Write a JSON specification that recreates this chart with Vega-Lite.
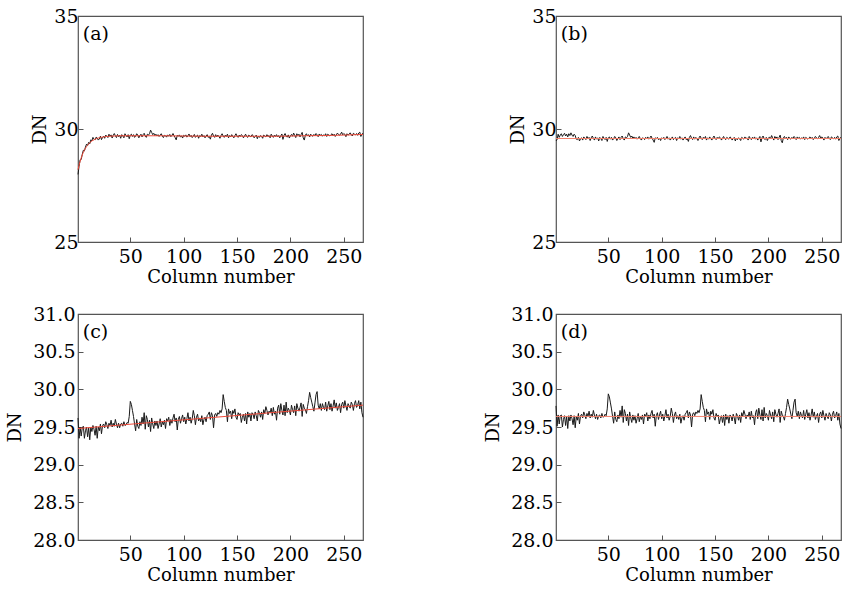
{
  "$schema": "https://vega.github.io/schema/vega-lite/v6.json",
  "background": "white",
  "padding": {"left": 6, "top": 6, "right": 0, "bottom": 0},
  "config": {
    "font": "DejaVu Serif",
    "view": {"stroke": "#555555", "strokeWidth": 1.2},
    "axis": {
      "domain": false,
      "grid": false,
      "tickSize": -5,
      "tickColor": "#555555",
      "labelFont": "DejaVu Serif",
      "labelFontSize": 19,
      "labelColor": "#000000",
      "labelFlush": false,
      "labelOverlap": false,
      "titleFont": "DejaVu Serif",
      "titleFontSize": 18,
      "titleFontWeight": "normal",
      "titleColor": "#000000"
    },
    "axisX": {"labelPadding": 10, "titlePadding": 2},
    "axisY": {"labelPadding": 5, "titlePadding": 4}
  },
  "datasets": {
    "a": [
      {"x":1,"y":27.99},{"x":2,"y":28.35},{"x":3,"y":28.64},{"x":4,"y":28.65},{"x":5,"y":28.88},{"x":6,"y":29.06},{"x":7,"y":29.03},{"x":8,"y":29.20},{"x":9,"y":29.33},{"x":10,"y":29.27},
      {"x":11,"y":29.41},{"x":12,"y":29.34},{"x":13,"y":29.52},{"x":14,"y":29.48},{"x":15,"y":29.63},{"x":16,"y":29.55},{"x":17,"y":29.52},{"x":18,"y":29.64},{"x":19,"y":29.60},{"x":20,"y":29.51},
      {"x":21,"y":29.56},{"x":22,"y":29.68},{"x":23,"y":29.53},{"x":24,"y":29.63},{"x":25,"y":29.68},{"x":26,"y":29.59},{"x":27,"y":29.73},{"x":28,"y":29.68},{"x":29,"y":29.62},{"x":30,"y":29.77},
      {"x":31,"y":29.68},{"x":32,"y":29.74},{"x":33,"y":29.60},{"x":34,"y":29.72},{"x":35,"y":29.80},{"x":36,"y":29.70},{"x":37,"y":29.62},{"x":38,"y":29.76},{"x":39,"y":29.66},{"x":40,"y":29.72},
      {"x":41,"y":29.59},{"x":42,"y":29.75},{"x":43,"y":29.69},{"x":44,"y":29.61},{"x":45,"y":29.79},{"x":46,"y":29.71},{"x":47,"y":29.65},{"x":48,"y":29.75},{"x":49,"y":29.57},{"x":50,"y":29.73},
      {"x":51,"y":29.77},{"x":52,"y":29.67},{"x":53,"y":29.75},{"x":54,"y":29.63},{"x":55,"y":29.69},{"x":56,"y":29.79},{"x":57,"y":29.73},{"x":58,"y":29.61},{"x":59,"y":29.71},{"x":60,"y":29.77},
      {"x":61,"y":29.65},{"x":62,"y":29.75},{"x":63,"y":29.81},{"x":64,"y":29.69},{"x":65,"y":29.63},{"x":66,"y":29.77},{"x":67,"y":29.73},{"x":68,"y":29.79},{"x":69,"y":29.95},{"x":70,"y":29.85},
      {"x":71,"y":29.75},{"x":72,"y":29.81},{"x":73,"y":29.71},{"x":74,"y":29.77},{"x":75,"y":29.69},{"x":76,"y":29.75},{"x":77,"y":29.67},{"x":78,"y":29.73},{"x":79,"y":29.79},{"x":80,"y":29.69},
      {"x":81,"y":29.62},{"x":82,"y":29.72},{"x":83,"y":29.70},{"x":84,"y":29.64},{"x":85,"y":29.74},{"x":86,"y":29.68},{"x":87,"y":29.76},{"x":88,"y":29.66},{"x":89,"y":29.72},{"x":90,"y":29.80},
      {"x":91,"y":29.70},{"x":92,"y":29.62},{"x":93,"y":29.52},{"x":94,"y":29.72},{"x":95,"y":29.68},{"x":96,"y":29.74},{"x":97,"y":29.64},{"x":98,"y":29.70},{"x":99,"y":29.60},{"x":100,"y":29.72},
      {"x":101,"y":29.68},{"x":102,"y":29.74},{"x":103,"y":29.64},{"x":104,"y":29.70},{"x":105,"y":29.78},{"x":106,"y":29.66},{"x":107,"y":29.72},{"x":108,"y":29.62},{"x":109,"y":29.68},{"x":110,"y":29.76},
      {"x":111,"y":29.63},{"x":112,"y":29.69},{"x":113,"y":29.73},{"x":114,"y":29.59},{"x":115,"y":29.71},{"x":116,"y":29.67},{"x":117,"y":29.77},{"x":118,"y":29.65},{"x":119,"y":29.71},{"x":120,"y":29.61},
      {"x":121,"y":29.69},{"x":122,"y":29.75},{"x":123,"y":29.63},{"x":124,"y":29.67},{"x":125,"y":29.55},{"x":126,"y":29.73},{"x":127,"y":29.81},{"x":128,"y":29.69},{"x":129,"y":29.63},{"x":130,"y":29.75},
      {"x":131,"y":29.65},{"x":132,"y":29.73},{"x":133,"y":29.67},{"x":134,"y":29.59},{"x":135,"y":29.71},{"x":136,"y":29.79},{"x":137,"y":29.69},{"x":138,"y":29.63},{"x":139,"y":29.73},{"x":140,"y":29.67},
      {"x":141,"y":29.77},{"x":142,"y":29.61},{"x":143,"y":29.71},{"x":144,"y":29.65},{"x":145,"y":29.75},{"x":146,"y":29.67},{"x":147,"y":29.61},{"x":148,"y":29.71},{"x":149,"y":29.79},{"x":150,"y":29.69},
      {"x":151,"y":29.63},{"x":152,"y":29.73},{"x":153,"y":29.67},{"x":154,"y":29.75},{"x":155,"y":29.71},{"x":156,"y":29.61},{"x":157,"y":29.69},{"x":158,"y":29.77},{"x":159,"y":29.67},{"x":160,"y":29.63},
      {"x":161,"y":29.73},{"x":162,"y":29.69},{"x":163,"y":29.65},{"x":164,"y":29.75},{"x":165,"y":29.71},{"x":166,"y":29.61},{"x":167,"y":29.67},{"x":168,"y":29.73},{"x":169,"y":29.57},{"x":170,"y":29.69},
      {"x":171,"y":29.63},{"x":172,"y":29.71},{"x":173,"y":29.67},{"x":174,"y":29.59},{"x":175,"y":29.73},{"x":176,"y":29.69},{"x":177,"y":29.65},{"x":178,"y":29.75},{"x":179,"y":29.67},{"x":180,"y":29.71},
      {"x":181,"y":29.61},{"x":182,"y":29.77},{"x":183,"y":29.69},{"x":184,"y":29.63},{"x":185,"y":29.73},{"x":186,"y":29.67},{"x":187,"y":29.75},{"x":188,"y":29.65},{"x":189,"y":29.71},{"x":190,"y":29.61},
      {"x":191,"y":29.70},{"x":192,"y":29.78},{"x":193,"y":29.54},{"x":194,"y":29.72},{"x":195,"y":29.80},{"x":196,"y":29.68},{"x":197,"y":29.64},{"x":198,"y":29.74},{"x":199,"y":29.60},{"x":200,"y":29.70},
      {"x":201,"y":29.76},{"x":202,"y":29.68},{"x":203,"y":29.82},{"x":204,"y":29.72},{"x":205,"y":29.62},{"x":206,"y":29.79},{"x":207,"y":29.71},{"x":208,"y":29.77},{"x":209,"y":29.65},{"x":210,"y":29.75},
      {"x":211,"y":29.85},{"x":212,"y":29.61},{"x":213,"y":29.51},{"x":214,"y":29.73},{"x":215,"y":29.79},{"x":216,"y":29.69},{"x":217,"y":29.75},{"x":218,"y":29.65},{"x":219,"y":29.77},{"x":220,"y":29.71},
      {"x":221,"y":29.68},{"x":222,"y":29.76},{"x":223,"y":29.70},{"x":224,"y":29.80},{"x":225,"y":29.74},{"x":226,"y":29.66},{"x":227,"y":29.78},{"x":228,"y":29.72},{"x":229,"y":29.76},{"x":230,"y":29.68},
      {"x":231,"y":29.74},{"x":232,"y":29.70},{"x":233,"y":29.79},{"x":234,"y":29.67},{"x":235,"y":29.77},{"x":236,"y":29.73},{"x":237,"y":29.69},{"x":238,"y":29.75},{"x":239,"y":29.79},{"x":240,"y":29.71},
      {"x":241,"y":29.77},{"x":242,"y":29.67},{"x":243,"y":29.74},{"x":244,"y":29.82},{"x":245,"y":29.76},{"x":246,"y":29.72},{"x":247,"y":29.78},{"x":248,"y":29.86},{"x":249,"y":29.74},{"x":250,"y":29.80},
      {"x":251,"y":29.76},{"x":252,"y":29.66},{"x":253,"y":29.79},{"x":254,"y":29.73},{"x":255,"y":29.77},{"x":256,"y":29.83},{"x":257,"y":29.75},{"x":258,"y":29.69},{"x":259,"y":29.81},{"x":260,"y":29.77},
      {"x":261,"y":29.74},{"x":262,"y":29.80},{"x":263,"y":29.72},{"x":264,"y":29.82},{"x":265,"y":29.86},{"x":266,"y":29.67},{"x":267,"y":29.77},{"x":268,"y":29.81}
    ],
    "fa": [
      {"x":1,"y":28.20},{"x":2,"y":28.40},{"x":3,"y":28.57},{"x":4,"y":28.72},{"x":5,"y":28.85},{"x":6,"y":28.97},{"x":7,"y":29.06},{"x":8,"y":29.15},{"x":9,"y":29.22},{"x":10,"y":29.28},
      {"x":11,"y":29.34},{"x":12,"y":29.39},{"x":13,"y":29.43},{"x":14,"y":29.47},{"x":15,"y":29.50},{"x":16,"y":29.52},{"x":17,"y":29.55},{"x":18,"y":29.57},{"x":19,"y":29.59},{"x":20,"y":29.60},
      {"x":22,"y":29.63},{"x":24,"y":29.64},{"x":26,"y":29.66},{"x":28,"y":29.67},{"x":30,"y":29.68},{"x":35,"y":29.69},{"x":40,"y":29.70},{"x":60,"y":29.70},{"x":80,"y":29.70},{"x":100,"y":29.69},
      {"x":120,"y":29.68},{"x":150,"y":29.68},{"x":190,"y":29.68},{"x":210,"y":29.70},{"x":230,"y":29.71},{"x":250,"y":29.73},{"x":268,"y":29.76}
    ],
    "b": [
      {"x":1,"y":29.47},{"x":2,"y":29.53},{"x":3,"y":29.77},{"x":4,"y":29.63},{"x":5,"y":29.73},{"x":6,"y":29.79},{"x":7,"y":29.67},{"x":8,"y":29.75},{"x":9,"y":29.81},{"x":10,"y":29.69},
      {"x":11,"y":29.77},{"x":12,"y":29.65},{"x":13,"y":29.79},{"x":14,"y":29.71},{"x":15,"y":29.83},{"x":16,"y":29.73},{"x":17,"y":29.67},{"x":18,"y":29.77},{"x":19,"y":29.71},{"x":20,"y":29.55},
      {"x":21,"y":29.53},{"x":22,"y":29.63},{"x":23,"y":29.47},{"x":24,"y":29.57},{"x":25,"y":29.61},{"x":26,"y":29.51},{"x":27,"y":29.65},{"x":28,"y":29.59},{"x":29,"y":29.53},{"x":30,"y":29.67},
      {"x":31,"y":29.57},{"x":32,"y":29.63},{"x":33,"y":29.49},{"x":34,"y":29.61},{"x":35,"y":29.69},{"x":36,"y":29.59},{"x":37,"y":29.51},{"x":38,"y":29.65},{"x":39,"y":29.55},{"x":40,"y":29.61},
      {"x":41,"y":29.47},{"x":42,"y":29.63},{"x":43,"y":29.57},{"x":44,"y":29.49},{"x":45,"y":29.67},{"x":46,"y":29.59},{"x":47,"y":29.53},{"x":48,"y":29.63},{"x":49,"y":29.45},{"x":50,"y":29.61},
      {"x":51,"y":29.65},{"x":52,"y":29.55},{"x":53,"y":29.63},{"x":54,"y":29.51},{"x":55,"y":29.57},{"x":56,"y":29.67},{"x":57,"y":29.61},{"x":58,"y":29.49},{"x":59,"y":29.59},{"x":60,"y":29.65},
      {"x":61,"y":29.53},{"x":62,"y":29.63},{"x":63,"y":29.69},{"x":64,"y":29.57},{"x":65,"y":29.51},{"x":66,"y":29.65},{"x":67,"y":29.61},{"x":68,"y":29.67},{"x":69,"y":29.83},{"x":70,"y":29.73},
      {"x":71,"y":29.63},{"x":72,"y":29.69},{"x":73,"y":29.59},{"x":74,"y":29.65},{"x":75,"y":29.57},{"x":76,"y":29.63},{"x":77,"y":29.55},{"x":78,"y":29.61},{"x":79,"y":29.67},{"x":80,"y":29.57},
      {"x":81,"y":29.51},{"x":82,"y":29.61},{"x":83,"y":29.59},{"x":84,"y":29.53},{"x":85,"y":29.63},{"x":86,"y":29.57},{"x":87,"y":29.65},{"x":88,"y":29.55},{"x":89,"y":29.61},{"x":90,"y":29.69},
      {"x":91,"y":29.59},{"x":92,"y":29.51},{"x":93,"y":29.41},{"x":94,"y":29.61},{"x":95,"y":29.57},{"x":96,"y":29.63},{"x":97,"y":29.53},{"x":98,"y":29.59},{"x":99,"y":29.49},{"x":100,"y":29.61},
      {"x":101,"y":29.57},{"x":102,"y":29.63},{"x":103,"y":29.53},{"x":104,"y":29.59},{"x":105,"y":29.67},{"x":106,"y":29.55},{"x":107,"y":29.61},{"x":108,"y":29.51},{"x":109,"y":29.57},{"x":110,"y":29.65},
      {"x":111,"y":29.53},{"x":112,"y":29.59},{"x":113,"y":29.63},{"x":114,"y":29.49},{"x":115,"y":29.61},{"x":116,"y":29.57},{"x":117,"y":29.67},{"x":118,"y":29.55},{"x":119,"y":29.61},{"x":120,"y":29.51},
      {"x":121,"y":29.59},{"x":122,"y":29.65},{"x":123,"y":29.53},{"x":124,"y":29.57},{"x":125,"y":29.45},{"x":126,"y":29.63},{"x":127,"y":29.71},{"x":128,"y":29.59},{"x":129,"y":29.53},{"x":130,"y":29.65},
      {"x":131,"y":29.55},{"x":132,"y":29.63},{"x":133,"y":29.57},{"x":134,"y":29.49},{"x":135,"y":29.61},{"x":136,"y":29.69},{"x":137,"y":29.59},{"x":138,"y":29.53},{"x":139,"y":29.63},{"x":140,"y":29.57},
      {"x":141,"y":29.67},{"x":142,"y":29.51},{"x":143,"y":29.61},{"x":144,"y":29.55},{"x":145,"y":29.65},{"x":146,"y":29.57},{"x":147,"y":29.51},{"x":148,"y":29.61},{"x":149,"y":29.69},{"x":150,"y":29.59},
      {"x":151,"y":29.53},{"x":152,"y":29.63},{"x":153,"y":29.57},{"x":154,"y":29.65},{"x":155,"y":29.61},{"x":156,"y":29.51},{"x":157,"y":29.59},{"x":158,"y":29.67},{"x":159,"y":29.57},{"x":160,"y":29.53},
      {"x":161,"y":29.63},{"x":162,"y":29.59},{"x":163,"y":29.55},{"x":164,"y":29.65},{"x":165,"y":29.61},{"x":166,"y":29.51},{"x":167,"y":29.57},{"x":168,"y":29.63},{"x":169,"y":29.47},{"x":170,"y":29.59},
      {"x":171,"y":29.53},{"x":172,"y":29.61},{"x":173,"y":29.57},{"x":174,"y":29.49},{"x":175,"y":29.63},{"x":176,"y":29.59},{"x":177,"y":29.55},{"x":178,"y":29.65},{"x":179,"y":29.57},{"x":180,"y":29.61},
      {"x":181,"y":29.51},{"x":182,"y":29.67},{"x":183,"y":29.59},{"x":184,"y":29.53},{"x":185,"y":29.63},{"x":186,"y":29.57},{"x":187,"y":29.65},{"x":188,"y":29.55},{"x":189,"y":29.61},{"x":190,"y":29.51},
      {"x":191,"y":29.59},{"x":192,"y":29.67},{"x":193,"y":29.43},{"x":194,"y":29.61},{"x":195,"y":29.69},{"x":196,"y":29.57},{"x":197,"y":29.53},{"x":198,"y":29.63},{"x":199,"y":29.49},{"x":200,"y":29.59},
      {"x":201,"y":29.65},{"x":202,"y":29.57},{"x":203,"y":29.71},{"x":204,"y":29.61},{"x":205,"y":29.51},{"x":206,"y":29.67},{"x":207,"y":29.59},{"x":208,"y":29.65},{"x":209,"y":29.53},{"x":210,"y":29.63},
      {"x":211,"y":29.73},{"x":212,"y":29.49},{"x":213,"y":29.39},{"x":214,"y":29.61},{"x":215,"y":29.67},{"x":216,"y":29.57},{"x":217,"y":29.63},{"x":218,"y":29.53},{"x":219,"y":29.65},{"x":220,"y":29.59},
      {"x":221,"y":29.55},{"x":222,"y":29.63},{"x":223,"y":29.57},{"x":224,"y":29.67},{"x":225,"y":29.61},{"x":226,"y":29.53},{"x":227,"y":29.65},{"x":228,"y":29.59},{"x":229,"y":29.63},{"x":230,"y":29.55},
      {"x":231,"y":29.61},{"x":232,"y":29.57},{"x":233,"y":29.65},{"x":234,"y":29.53},{"x":235,"y":29.63},{"x":236,"y":29.59},{"x":237,"y":29.55},{"x":238,"y":29.61},{"x":239,"y":29.65},{"x":240,"y":29.57},
      {"x":241,"y":29.63},{"x":242,"y":29.53},{"x":243,"y":29.59},{"x":244,"y":29.67},{"x":245,"y":29.61},{"x":246,"y":29.57},{"x":247,"y":29.63},{"x":248,"y":29.71},{"x":249,"y":29.59},{"x":250,"y":29.65},
      {"x":251,"y":29.61},{"x":252,"y":29.51},{"x":253,"y":29.63},{"x":254,"y":29.57},{"x":255,"y":29.61},{"x":256,"y":29.67},{"x":257,"y":29.59},{"x":258,"y":29.53},{"x":259,"y":29.65},{"x":260,"y":29.61},
      {"x":261,"y":29.57},{"x":262,"y":29.63},{"x":263,"y":29.55},{"x":264,"y":29.65},{"x":265,"y":29.69},{"x":266,"y":29.49},{"x":267,"y":29.59},{"x":268,"y":29.63}
    ],
    "fb": [{"x":1,"y":29.58},{"x":268,"y":29.58}],
    "c": [
      {"x":1,"y":29.62},{"x":2,"y":29.35},{"x":3,"y":29.50},{"x":4,"y":29.38},{"x":5,"y":29.49},{"x":6,"y":29.51},{"x":7,"y":29.35},{"x":8,"y":29.45},{"x":9,"y":29.50},{"x":10,"y":29.37},
      {"x":11,"y":29.49},{"x":12,"y":29.33},{"x":13,"y":29.50},{"x":14,"y":29.44},{"x":15,"y":29.52},{"x":16,"y":29.47},{"x":17,"y":29.39},{"x":18,"y":29.51},{"x":19,"y":29.35},{"x":20,"y":29.50},
      {"x":21,"y":29.45},{"x":22,"y":29.54},{"x":23,"y":29.41},{"x":24,"y":29.52},{"x":25,"y":29.54},{"x":26,"y":29.49},{"x":27,"y":29.57},{"x":28,"y":29.53},{"x":29,"y":29.48},{"x":30,"y":29.55},
      {"x":31,"y":29.52},{"x":32,"y":29.59},{"x":33,"y":29.50},{"x":34,"y":29.55},{"x":35,"y":29.51},{"x":36,"y":29.60},{"x":37,"y":29.54},{"x":38,"y":29.49},{"x":39,"y":29.55},{"x":40,"y":29.49},
      {"x":41,"y":29.54},{"x":42,"y":29.55},{"x":43,"y":29.51},{"x":44,"y":29.57},{"x":45,"y":29.52},{"x":46,"y":29.53},{"x":47,"y":29.56},{"x":48,"y":29.55},{"x":49,"y":29.64},{"x":50,"y":29.84},
      {"x":51,"y":29.80},{"x":52,"y":29.72},{"x":53,"y":29.64},{"x":54,"y":29.54},{"x":55,"y":29.45},{"x":56,"y":29.60},{"x":57,"y":29.51},{"x":58,"y":29.48},{"x":59,"y":29.57},{"x":60,"y":29.52},
      {"x":61,"y":29.63},{"x":62,"y":29.54},{"x":63,"y":29.69},{"x":64,"y":29.47},{"x":65,"y":29.65},{"x":66,"y":29.60},{"x":67,"y":29.50},{"x":68,"y":29.59},{"x":69,"y":29.44},{"x":70,"y":29.62},
      {"x":71,"y":29.54},{"x":72,"y":29.48},{"x":73,"y":29.58},{"x":74,"y":29.52},{"x":75,"y":29.58},{"x":76,"y":29.48},{"x":77,"y":29.54},{"x":78,"y":29.61},{"x":79,"y":29.50},{"x":80,"y":29.57},
      {"x":81,"y":29.53},{"x":82,"y":29.59},{"x":83,"y":29.48},{"x":84,"y":29.61},{"x":85,"y":29.58},{"x":86,"y":29.63},{"x":87,"y":29.52},{"x":88,"y":29.60},{"x":89,"y":29.55},{"x":90,"y":29.62},
      {"x":91,"y":29.67},{"x":92,"y":29.57},{"x":93,"y":29.62},{"x":94,"y":29.46},{"x":95,"y":29.60},{"x":96,"y":29.64},{"x":97,"y":29.55},{"x":98,"y":29.61},{"x":99,"y":29.66},{"x":100,"y":29.57},
      {"x":101,"y":29.63},{"x":102,"y":29.54},{"x":103,"y":29.61},{"x":104,"y":29.69},{"x":105,"y":29.58},{"x":106,"y":29.63},{"x":107,"y":29.55},{"x":108,"y":29.61},{"x":109,"y":29.72},{"x":110,"y":29.65},
      {"x":111,"y":29.53},{"x":112,"y":29.63},{"x":113,"y":29.67},{"x":114,"y":29.58},{"x":115,"y":29.62},{"x":116,"y":29.57},{"x":117,"y":29.65},{"x":118,"y":29.53},{"x":119,"y":29.60},{"x":120,"y":29.63},
      {"x":121,"y":29.57},{"x":122,"y":29.65},{"x":123,"y":29.67},{"x":124,"y":29.70},{"x":125,"y":29.60},{"x":126,"y":29.69},{"x":127,"y":29.65},{"x":128,"y":29.49},{"x":129,"y":29.66},{"x":130,"y":29.68},
      {"x":131,"y":29.64},{"x":132,"y":29.69},{"x":133,"y":29.67},{"x":134,"y":29.72},{"x":135,"y":29.69},{"x":136,"y":29.74},{"x":137,"y":29.93},{"x":138,"y":29.84},{"x":139,"y":29.76},{"x":140,"y":29.72},
      {"x":141,"y":29.57},{"x":142,"y":29.74},{"x":143,"y":29.68},{"x":144,"y":29.71},{"x":145,"y":29.61},{"x":146,"y":29.72},{"x":147,"y":29.68},{"x":148,"y":29.74},{"x":149,"y":29.63},{"x":150,"y":29.60},
      {"x":151,"y":29.69},{"x":152,"y":29.66},{"x":153,"y":29.68},{"x":154,"y":29.56},{"x":155,"y":29.63},{"x":156,"y":29.67},{"x":157,"y":29.58},{"x":158,"y":29.68},{"x":159,"y":29.54},{"x":160,"y":29.70},
      {"x":161,"y":29.63},{"x":162,"y":29.68},{"x":163,"y":29.58},{"x":164,"y":29.69},{"x":165,"y":29.67},{"x":166,"y":29.61},{"x":167,"y":29.70},{"x":168,"y":29.65},{"x":169,"y":29.58},{"x":170,"y":29.72},
      {"x":171,"y":29.69},{"x":172,"y":29.63},{"x":173,"y":29.70},{"x":174,"y":29.60},{"x":175,"y":29.73},{"x":176,"y":29.68},{"x":177,"y":29.77},{"x":178,"y":29.72},{"x":179,"y":29.66},{"x":180,"y":29.71},
      {"x":181,"y":29.69},{"x":182,"y":29.75},{"x":183,"y":29.65},{"x":184,"y":29.76},{"x":185,"y":29.67},{"x":186,"y":29.71},{"x":187,"y":29.59},{"x":188,"y":29.75},{"x":189,"y":29.79},{"x":190,"y":29.67},
      {"x":191,"y":29.81},{"x":192,"y":29.72},{"x":193,"y":29.66},{"x":194,"y":29.79},{"x":195,"y":29.65},{"x":196,"y":29.83},{"x":197,"y":29.69},{"x":198,"y":29.75},{"x":199,"y":29.72},{"x":200,"y":29.66},
      {"x":201,"y":29.79},{"x":202,"y":29.73},{"x":203,"y":29.69},{"x":204,"y":29.78},{"x":205,"y":29.65},{"x":206,"y":29.81},{"x":207,"y":29.75},{"x":208,"y":29.71},{"x":209,"y":29.76},{"x":210,"y":29.82},
      {"x":211,"y":29.64},{"x":212,"y":29.80},{"x":213,"y":29.75},{"x":214,"y":29.73},{"x":215,"y":29.68},{"x":216,"y":29.77},{"x":217,"y":29.85},{"x":218,"y":29.96},{"x":219,"y":29.89},{"x":220,"y":29.83},
      {"x":221,"y":29.77},{"x":222,"y":29.71},{"x":223,"y":29.82},{"x":224,"y":29.93},{"x":225,"y":29.97},{"x":226,"y":29.79},{"x":227,"y":29.74},{"x":228,"y":29.81},{"x":229,"y":29.72},{"x":230,"y":29.81},
      {"x":231,"y":29.76},{"x":232,"y":29.73},{"x":233,"y":29.83},{"x":234,"y":29.71},{"x":235,"y":29.78},{"x":236,"y":29.84},{"x":237,"y":29.73},{"x":238,"y":29.81},{"x":239,"y":29.71},{"x":240,"y":29.78},
      {"x":241,"y":29.86},{"x":242,"y":29.75},{"x":243,"y":29.82},{"x":244,"y":29.72},{"x":245,"y":29.76},{"x":246,"y":29.81},{"x":247,"y":29.69},{"x":248,"y":29.80},{"x":249,"y":29.83},{"x":250,"y":29.75},
      {"x":251,"y":29.85},{"x":252,"y":29.78},{"x":253,"y":29.72},{"x":254,"y":29.81},{"x":255,"y":29.78},{"x":256,"y":29.75},{"x":257,"y":29.83},{"x":258,"y":29.80},{"x":259,"y":29.72},{"x":260,"y":29.81},
      {"x":261,"y":29.85},{"x":262,"y":29.76},{"x":263,"y":29.79},{"x":264,"y":29.85},{"x":265,"y":29.74},{"x":266,"y":29.83},{"x":267,"y":29.69},{"x":268,"y":29.63}
    ],
    "fc": [{"x":1,"y":29.48},{"x":268,"y":29.79}],
    "d": [
      {"x":1,"y":29.78},{"x":2,"y":29.51},{"x":3,"y":29.66},{"x":4,"y":29.54},{"x":5,"y":29.65},{"x":6,"y":29.66},{"x":7,"y":29.50},{"x":8,"y":29.60},{"x":9,"y":29.65},{"x":10,"y":29.52},
      {"x":11,"y":29.64},{"x":12,"y":29.48},{"x":13,"y":29.65},{"x":14,"y":29.58},{"x":15,"y":29.66},{"x":16,"y":29.61},{"x":17,"y":29.53},{"x":18,"y":29.65},{"x":19,"y":29.49},{"x":20,"y":29.64},
      {"x":21,"y":29.59},{"x":22,"y":29.68},{"x":23,"y":29.54},{"x":24,"y":29.65},{"x":25,"y":29.67},{"x":26,"y":29.62},{"x":27,"y":29.70},{"x":28,"y":29.66},{"x":29,"y":29.61},{"x":30,"y":29.68},
      {"x":31,"y":29.64},{"x":32,"y":29.71},{"x":33,"y":29.62},{"x":34,"y":29.67},{"x":35,"y":29.63},{"x":36,"y":29.72},{"x":37,"y":29.66},{"x":38,"y":29.61},{"x":39,"y":29.67},{"x":40,"y":29.60},
      {"x":41,"y":29.65},{"x":42,"y":29.66},{"x":43,"y":29.62},{"x":44,"y":29.68},{"x":45,"y":29.63},{"x":46,"y":29.64},{"x":47,"y":29.67},{"x":48,"y":29.65},{"x":49,"y":29.74},{"x":50,"y":29.94},
      {"x":51,"y":29.90},{"x":52,"y":29.82},{"x":53,"y":29.74},{"x":54,"y":29.64},{"x":55,"y":29.55},{"x":56,"y":29.70},{"x":57,"y":29.60},{"x":58,"y":29.57},{"x":59,"y":29.66},{"x":60,"y":29.61},
      {"x":61,"y":29.72},{"x":62,"y":29.63},{"x":63,"y":29.78},{"x":64,"y":29.56},{"x":65,"y":29.73},{"x":66,"y":29.68},{"x":67,"y":29.58},{"x":68,"y":29.67},{"x":69,"y":29.52},{"x":70,"y":29.70},
      {"x":71,"y":29.62},{"x":72,"y":29.56},{"x":73,"y":29.66},{"x":74,"y":29.59},{"x":75,"y":29.65},{"x":76,"y":29.55},{"x":77,"y":29.61},{"x":78,"y":29.68},{"x":79,"y":29.57},{"x":80,"y":29.64},
      {"x":81,"y":29.60},{"x":82,"y":29.66},{"x":83,"y":29.54},{"x":84,"y":29.67},{"x":85,"y":29.64},{"x":86,"y":29.69},{"x":87,"y":29.58},{"x":88,"y":29.66},{"x":89,"y":29.61},{"x":90,"y":29.68},
      {"x":91,"y":29.72},{"x":92,"y":29.62},{"x":93,"y":29.67},{"x":94,"y":29.51},{"x":95,"y":29.65},{"x":96,"y":29.69},{"x":97,"y":29.60},{"x":98,"y":29.66},{"x":99,"y":29.71},{"x":100,"y":29.61},
      {"x":101,"y":29.67},{"x":102,"y":29.58},{"x":103,"y":29.65},{"x":104,"y":29.73},{"x":105,"y":29.62},{"x":106,"y":29.67},{"x":107,"y":29.59},{"x":108,"y":29.64},{"x":109,"y":29.75},{"x":110,"y":29.68},
      {"x":111,"y":29.56},{"x":112,"y":29.66},{"x":113,"y":29.70},{"x":114,"y":29.61},{"x":115,"y":29.65},{"x":116,"y":29.60},{"x":117,"y":29.67},{"x":118,"y":29.55},{"x":119,"y":29.62},{"x":120,"y":29.65},
      {"x":121,"y":29.59},{"x":122,"y":29.67},{"x":123,"y":29.69},{"x":124,"y":29.72},{"x":125,"y":29.62},{"x":126,"y":29.70},{"x":127,"y":29.66},{"x":128,"y":29.50},{"x":129,"y":29.67},{"x":130,"y":29.69},
      {"x":131,"y":29.65},{"x":132,"y":29.70},{"x":133,"y":29.68},{"x":134,"y":29.72},{"x":135,"y":29.69},{"x":136,"y":29.74},{"x":137,"y":29.93},{"x":138,"y":29.84},{"x":139,"y":29.76},{"x":140,"y":29.72},
      {"x":141,"y":29.57},{"x":142,"y":29.74},{"x":143,"y":29.67},{"x":144,"y":29.70},{"x":145,"y":29.60},{"x":146,"y":29.71},{"x":147,"y":29.67},{"x":148,"y":29.73},{"x":149,"y":29.62},{"x":150,"y":29.59},
      {"x":151,"y":29.68},{"x":152,"y":29.64},{"x":153,"y":29.66},{"x":154,"y":29.54},{"x":155,"y":29.61},{"x":156,"y":29.65},{"x":157,"y":29.56},{"x":158,"y":29.66},{"x":159,"y":29.52},{"x":160,"y":29.67},
      {"x":161,"y":29.60},{"x":162,"y":29.65},{"x":163,"y":29.55},{"x":164,"y":29.66},{"x":165,"y":29.64},{"x":166,"y":29.58},{"x":167,"y":29.67},{"x":168,"y":29.62},{"x":169,"y":29.54},{"x":170,"y":29.68},
      {"x":171,"y":29.65},{"x":172,"y":29.59},{"x":173,"y":29.66},{"x":174,"y":29.56},{"x":175,"y":29.69},{"x":176,"y":29.64},{"x":177,"y":29.72},{"x":178,"y":29.67},{"x":179,"y":29.61},{"x":180,"y":29.66},
      {"x":181,"y":29.64},{"x":182,"y":29.70},{"x":183,"y":29.60},{"x":184,"y":29.71},{"x":185,"y":29.62},{"x":186,"y":29.65},{"x":187,"y":29.53},{"x":188,"y":29.69},{"x":189,"y":29.73},{"x":190,"y":29.61},
      {"x":191,"y":29.75},{"x":192,"y":29.66},{"x":193,"y":29.60},{"x":194,"y":29.73},{"x":195,"y":29.58},{"x":196,"y":29.76},{"x":197,"y":29.62},{"x":198,"y":29.68},{"x":199,"y":29.65},{"x":200,"y":29.59},
      {"x":201,"y":29.72},{"x":202,"y":29.66},{"x":203,"y":29.61},{"x":204,"y":29.70},{"x":205,"y":29.57},{"x":206,"y":29.73},{"x":207,"y":29.67},{"x":208,"y":29.63},{"x":209,"y":29.68},{"x":210,"y":29.74},
      {"x":211,"y":29.56},{"x":212,"y":29.71},{"x":213,"y":29.66},{"x":214,"y":29.64},{"x":215,"y":29.59},{"x":216,"y":29.68},{"x":217,"y":29.76},{"x":218,"y":29.87},{"x":219,"y":29.80},{"x":220,"y":29.74},
      {"x":221,"y":29.67},{"x":222,"y":29.61},{"x":223,"y":29.72},{"x":224,"y":29.83},{"x":225,"y":29.87},{"x":226,"y":29.69},{"x":227,"y":29.64},{"x":228,"y":29.71},{"x":229,"y":29.61},{"x":230,"y":29.70},
      {"x":231,"y":29.65},{"x":232,"y":29.62},{"x":233,"y":29.72},{"x":234,"y":29.60},{"x":235,"y":29.67},{"x":236,"y":29.73},{"x":237,"y":29.62},{"x":238,"y":29.69},{"x":239,"y":29.59},{"x":240,"y":29.66},
      {"x":241,"y":29.74},{"x":242,"y":29.63},{"x":243,"y":29.70},{"x":244,"y":29.60},{"x":245,"y":29.64},{"x":246,"y":29.68},{"x":247,"y":29.56},{"x":248,"y":29.67},{"x":249,"y":29.70},{"x":250,"y":29.62},
      {"x":251,"y":29.72},{"x":252,"y":29.65},{"x":253,"y":29.59},{"x":254,"y":29.68},{"x":255,"y":29.64},{"x":256,"y":29.61},{"x":257,"y":29.69},{"x":258,"y":29.66},{"x":259,"y":29.58},{"x":260,"y":29.67},
      {"x":261,"y":29.71},{"x":262,"y":29.62},{"x":263,"y":29.65},{"x":264,"y":29.70},{"x":265,"y":29.59},{"x":266,"y":29.68},{"x":267,"y":29.54},{"x":268,"y":29.48}
    ],
    "fd": [{"x":1,"y":29.64},{"x":268,"y":29.64}]
  },
  "concat": [
    {
      "width": 285, "height": 226,
      "layer": [
        {"data": {"name": "a"}, "mark": {"type": "line", "color": "#1a1a1a", "strokeWidth": 1},
         "encoding": {
           "x": {"field": "x", "type": "quantitative", "scale": {"domain": [1, 268], "nice": false, "zero": false}, "axis": {"values": [50, 100, 150, 200, 250], "tickCount": 10, "title": "Column number"}},
           "y": {"field": "y", "type": "quantitative", "scale": {"domain": [25, 35], "nice": false, "zero": false}, "axis": {"values": [25, 30, 35], "tickCount": 10, "title": "DN"}}}},
        {"data": {"name": "fa"}, "mark": {"type": "line", "color": "#ee4a3a", "strokeWidth": 1, "interpolate": "monotone"},
         "encoding": {"x": {"field": "x", "type": "quantitative"}, "y": {"field": "y", "type": "quantitative"}}},
        {"data": {"values": [{"label": "(a)"}]}, "mark": {"type": "text", "align": "left", "baseline": "top", "font": "DejaVu Serif", "fontSize": 19, "color": "#000000"},
         "encoding": {"x": {"datum": 5.5}, "y": {"datum": 34.62}, "text": {"field": "label"}}}
      ]
    },
    {
      "width": 285, "height": 226,
      "layer": [
        {"data": {"name": "b"}, "mark": {"type": "line", "color": "#1a1a1a", "strokeWidth": 1},
         "encoding": {
           "x": {"field": "x", "type": "quantitative", "scale": {"domain": [1, 268], "nice": false, "zero": false}, "axis": {"values": [50, 100, 150, 200, 250], "tickCount": 10, "title": "Column number"}},
           "y": {"field": "y", "type": "quantitative", "scale": {"domain": [25, 35], "nice": false, "zero": false}, "axis": {"values": [25, 30, 35], "tickCount": 10, "title": "DN"}}}},
        {"data": {"name": "fb"}, "mark": {"type": "line", "color": "#f3806c", "strokeWidth": 1},
         "encoding": {"x": {"field": "x", "type": "quantitative"}, "y": {"field": "y", "type": "quantitative"}}},
        {"data": {"values": [{"label": "(b)"}]}, "mark": {"type": "text", "align": "left", "baseline": "top", "font": "DejaVu Serif", "fontSize": 19, "color": "#000000"},
         "encoding": {"x": {"datum": 5.5}, "y": {"datum": 34.62}, "text": {"field": "label"}}}
      ]
    },
    {
      "width": 285, "height": 226,
      "layer": [
        {"data": {"name": "c"}, "mark": {"type": "line", "color": "#1a1a1a", "strokeWidth": 1},
         "encoding": {
           "x": {"field": "x", "type": "quantitative", "scale": {"domain": [1, 268], "nice": false, "zero": false}, "axis": {"values": [50, 100, 150, 200, 250], "tickCount": 10, "title": "Column number"}},
           "y": {"field": "y", "type": "quantitative", "scale": {"domain": [28, 31], "nice": false, "zero": false}, "axis": {"values": [28, 28.5, 29, 29.5, 30, 30.5, 31], "tickCount": 10, "format": ".1f", "title": "DN", "labelPadding": 8, "titlePadding": 8}}}},
        {"data": {"name": "fc"}, "mark": {"type": "line", "color": "#ee4a3a", "strokeWidth": 1},
         "encoding": {"x": {"field": "x", "type": "quantitative"}, "y": {"field": "y", "type": "quantitative"}}},
        {"data": {"values": [{"label": "(c)"}]}, "mark": {"type": "text", "align": "left", "baseline": "top", "font": "DejaVu Serif", "fontSize": 19, "color": "#000000"},
         "encoding": {"x": {"datum": 5.5}, "y": {"datum": 30.88}, "text": {"field": "label"}}}
      ]
    },
    {
      "width": 285, "height": 226,
      "layer": [
        {"data": {"name": "d"}, "mark": {"type": "line", "color": "#1a1a1a", "strokeWidth": 1},
         "encoding": {
           "x": {"field": "x", "type": "quantitative", "scale": {"domain": [1, 268], "nice": false, "zero": false}, "axis": {"values": [50, 100, 150, 200, 250], "tickCount": 10, "title": "Column number"}},
           "y": {"field": "y", "type": "quantitative", "scale": {"domain": [28, 31], "nice": false, "zero": false}, "axis": {"values": [28, 28.5, 29, 29.5, 30, 30.5, 31], "tickCount": 10, "format": ".1f", "title": "DN", "labelPadding": 8, "titlePadding": 8}}}},
        {"data": {"name": "fd"}, "mark": {"type": "line", "color": "#f3806c", "strokeWidth": 1},
         "encoding": {"x": {"field": "x", "type": "quantitative"}, "y": {"field": "y", "type": "quantitative"}}},
        {"data": {"values": [{"label": "(d)"}]}, "mark": {"type": "text", "align": "left", "baseline": "top", "font": "DejaVu Serif", "fontSize": 19, "color": "#000000"},
         "encoding": {"x": {"datum": 5.5}, "y": {"datum": 30.88}, "text": {"field": "label"}}}
      ]
    }
  ],
  "columns": 2,
  "spacing": {"row": 72, "column": 193},
  "bounds": "flush"
}
